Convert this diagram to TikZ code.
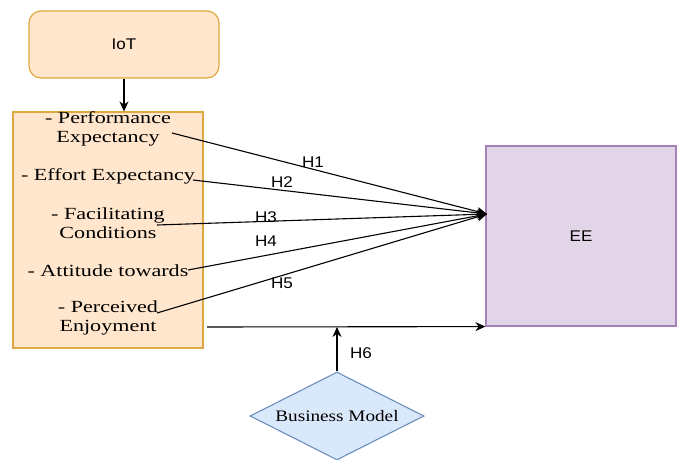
\documentclass[tikz,border=0pt]{standalone}
\usepackage{fontspec}
\usetikzlibrary{shapes.geometric,arrows.meta}
\setmainfont{Liberation Serif}
\newfontfamily\boxfont{Liberation Serif}[FakeStretch=1.3]
\newfontfamily\bmfont{Liberation Serif}[FakeStretch=1.2]
\newfontfamily\labfont{Liberation Sans}[FakeStretch=1.1]
\definecolor{orfill}{HTML}{FFE6CC}
\definecolor{ordraw}{HTML}{E0A840}
\definecolor{eefill}{HTML}{E1D5E7}
\definecolor{eedraw}{HTML}{A680B8}
\definecolor{bmfill}{HTML}{DAE8FC}
\definecolor{bmdraw}{HTML}{6C8EBF}

\begin{document}
\begin{tikzpicture}[x=1pt,y=-1pt]
\tikzstyle{every node}+=[inner sep=0pt]
\tikzstyle{orbox}=[draw=ordraw,fill=orfill,line width=1.2pt]
\tikzstyle{item}=[align=center,font=\boxfont\fontsize{17}{19}\selectfont]
\tikzstyle{hlab}=[font=\labfont\fontsize{15.5}{18}\selectfont]
\tikzstyle{link}=[black,line width=1.1pt,-{Stealth[length=10pt,width=9pt]}]
\useasboundingbox (0,0) rectangle (678,460);
\node [orbox,rounded corners=12pt,minimum width=190pt,minimum height=67pt] (iot) at (124,44.5) {};
\node [hlab] (iottext) at (124,44.5) {IoT};
\node [orbox,minimum width=190pt,minimum height=236pt] (lbox) at (108,230) {};
\node [item] (pe) at (108,128.5) {- Performance\\Expectancy};
\node [item] (ef) at (108,176) {- Effort Expectancy};
\node [item] (fc) at (108,223.5) {- Facilitating\\Conditions};
\node [item] (at) at (108,271) {- Attitude towards};
\node [item] (pj) at (108,318) {- Perceived\\Enjoyment};
\node [draw=eedraw,fill=eefill,line width=1.2pt,minimum width=190pt,minimum height=180pt] (ee) at (581,236) {};
\node [hlab] (eetext) at (581,236) {EE};
\node [diamond,draw=bmdraw,fill=bmfill,line width=1.1pt,shape aspect=2,minimum width=174pt,minimum height=88pt,font=\bmfont\fontsize{16}{19}\selectfont] (bm) at (337,416) {Business Model};
\coordinate (pestart) at (172,133);
\coordinate (efstart) at (193,180);
\coordinate (fcstart) at (157,225);
\coordinate (atstart) at (188,270);
\coordinate (pjstart) at (157,313);
\coordinate (lostart) at (207,327);
\coordinate (hub) at (487,214);
\coordinate (mid) at (337,327);
\draw [link] (iot.south) -- (iot.south |- lbox.north);
\draw [link] (pestart) -- (hub);
\draw [link] (efstart) -- (hub);
\draw [link] (fcstart) -- (hub);
\draw [link] (atstart) -- (hub);
\draw [link] (pjstart) -- (hub);
\draw [link] (lostart) -- (ee.south west);
\draw [link] (bm.north) -- (mid);
\node [hlab] (h1) at (313,162) {H1};
\node [hlab] (h2) at (282,182) {H2};
\node [hlab] (h3) at (266,217) {H3};
\node [hlab] (h4) at (266,241) {H4};
\node [hlab] (h5) at (282,283) {H5};
\node [hlab] (h6) at (361,353) {H6};
\end{tikzpicture}
\end{document}
